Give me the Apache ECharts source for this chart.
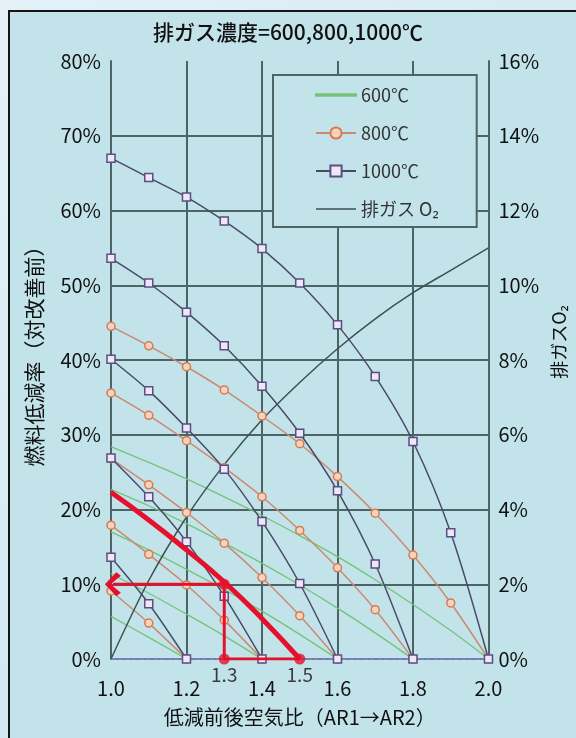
<!DOCTYPE html>
<html>
<head>
<meta charset="utf-8">
<script src="https://cdn.jsdelivr.net/npm/echarts@6/dist/echarts.min.js"></script>
<style>
html,body{margin:0;padding:0;width:576px;height:738px;overflow:hidden;background:linear-gradient(135deg,#e4f2f8,#c4e2ec);}
#panel{position:absolute;left:8px;top:10px;width:600px;height:760px;border:2px solid #151515;background:#c3e3ea;box-sizing:border-box;}
#chart{position:absolute;left:0;top:0;width:576px;height:738px;}
</style>
</head>
<body>
<div id="panel"></div>
<div id="chart"></div>
<script>
// air ratio after reduction (x), one row per AR1 = 1.2, 1.4, 1.6, 1.8, 2.0
const airRatio = [1.0, 1.1, 1.2, 1.3, 1.4, 1.5, 1.6, 1.7, 1.8, 1.9, 2.0];
const ar1List = [1.2, 1.4, 1.6, 1.8, 2.0];

const rate600 = [
  [5.7, 2.9, 0],
  [11.4, 8.8, 6.0, 3.1, 0],
  [17.0, 14.6, 12.0, 9.3, 6.4, 3.3, 0],
  [22.7, 20.5, 18.1, 15.5, 12.8, 9.9, 6.8, 3.5, 0],
  [28.4, 26.3, 24.1, 21.7, 19.2, 16.5, 13.7, 10.6, 7.3, 3.8, 0]
];
const rate800 = [
  [9.1, 4.8, 0],
  [17.9, 14.0, 9.9, 5.2, 0],
  [26.8, 23.3, 19.6, 15.5, 10.9, 5.8, 0],
  [35.6, 32.6, 29.2, 25.6, 21.7, 17.2, 12.2, 6.6, 0],
  [44.5, 41.9, 39.1, 36.0, 32.5, 28.8, 24.4, 19.5, 13.9, 7.5, 0]
];
const rate1000 = [
  [13.6, 7.4, 0],
  [26.9, 21.7, 15.7, 8.4, 0],
  [40.1, 35.9, 30.9, 25.4, 18.4, 10.1, 0],
  [53.6, 50.3, 46.4, 41.9, 36.5, 30.2, 22.5, 12.7, 0],
  [67.0, 64.4, 61.8, 58.6, 54.9, 50.3, 44.7, 37.8, 29.1, 16.9, 0]
];
const o2Rate = [0, 2.1, 3.8, 5.2, 6.4, 7.4, 8.3, 9.1, 9.8, 10.4, 11.0];

// highlighted example: AR 1.5 -> 1.3 at 800℃ gives 10%
const redCurve = [22.3, 18.6, 14.6, 10.3, 5.4, 0];
const exampleFrom = 1.5;
const exampleTo = 1.3;
const exampleRate = 10;

const FONT = '"Noto Sans CJK JP", "Noto Sans", sans-serif';
const GRID = '#4d6465';
const RED = '#e5112c';
const PLAIN_LINE = 'path://M0,0 L40,0 L40,1.3 L0,1.3 Z';

function toPoints(row) {
  return row.map((v, i) => [airRatio[i], v]);
}

function lineGroup(name, rows, color, symbol, symbolColor, fill, width) {
  return rows.map((row, k) => ({
    name: name,
    id: name + '_' + ar1List[k],
    type: 'line',
    data: toPoints(row),
    smooth: 0.3,
    symbol: symbol,
    symbolSize: 8,
    showSymbol: symbol !== 'none',
    lineStyle: { color: color, width: width },
    itemStyle: { color: fill, borderColor: symbolColor, borderWidth: 1.5 },
    z: 3,
    silent: true
  }));
}

const chart = echarts.init(document.getElementById('chart'), null, { renderer: 'canvas' });

const series = [].concat(
  lineGroup('600℃', rate600, '#74c477', 'none', '#74c477', '#74c477', 1.3),
  lineGroup('800℃', rate800, '#c98a70', 'circle', '#d9794f', '#f2d4c0', 1.5),
  lineGroup('1000℃', rate1000, '#4a4a68', 'rect', '#5b4d85', '#eee8f4', 1.5),
  [{
    name: '排ガス O₂',
    type: 'line',
    yAxisIndex: 1,
    data: toPoints(o2Rate),
    smooth: 0.3,
    symbol: 'none',
    lineStyle: { color: '#3c5152', width: 1.5 },
    itemStyle: { color: '#3c5152' },
    z: 3
  }, {
    name: 'red',
    type: 'line',
    data: toPoints(redCurve),
    smooth: 0.5,
    symbol: 'none',
    lineStyle: { color: RED, width: 5 },
    z: 10
  }, {
    name: 'redArrow',
    type: 'line',
    data: [
      { value: [exampleTo, exampleRate], symbol: 'none' },
      { value: [1.005, exampleRate], symbol: 'path://M10,0 L14,3 L5,10 L14,17 L10,20 L0,10 Z', symbolSize: [16, 24], symbolKeepAspect: false }
    ],
    showSymbol: true,
    lineStyle: { color: RED, width: 3 },
    itemStyle: { color: RED },
    z: 10
  }, {
    name: 'redDrop',
    type: 'line',
    data: [[exampleTo, exampleRate], [exampleTo, 0], [exampleFrom, 0]],
    symbol: 'none',
    lineStyle: { color: RED, width: 3 },
    z: 10
  }, {
    name: 'redDots',
    type: 'scatter',
    data: [
      { value: [exampleTo, exampleRate] },
      { value: [exampleTo, 0], label: { show: true } },
      { value: [exampleFrom, 0], label: { show: true } }
    ],
    symbolSize: 11,
    itemStyle: { color: RED },
    label: {
      show: false,
      position: 'bottom',
      distance: 1,
      formatter: p => p.value[0].toFixed(1),
      color: '#111',
      fontSize: 19,
      fontFamily: FONT
    },
    z: 11
  }]
);

const option = {
  animation: false,
  title: {
    text: '排ガス濃度=600,800,1000℃',
    left: 'center',
    top: 17,
    textStyle: { fontSize: 21, fontWeight: 500, color: '#111', fontFamily: FONT }
  },
  legend: {
    data: [
      { name: '600℃', icon: PLAIN_LINE },
      { name: '800℃' },
      { name: '1000℃' },
      { name: '排ガス O₂', icon: PLAIN_LINE }
    ],
    orient: 'vertical',
    left: 273,
    top: 75,
    itemWidth: 40,
    itemHeight: 14,
    itemGap: 20,
    padding: [11, 38, 9, 42],
    borderColor: GRID,
    borderWidth: 2,
    borderRadius: 0,
    backgroundColor: '#c3e3ea',
    textStyle: { fontSize: 18, color: '#333', fontFamily: FONT },
    z: 20
  },
  grid: { left: 111, right: 87, top: 61, bottom: 79 },
  xAxis: [{
    type: 'value',
    min: 1,
    max: 2,
    interval: 0.2,
    name: '低減前後空気比（AR1→AR2）',
    nameLocation: 'middle',
    nameGap: 48,
    nameTextStyle: { fontSize: 20, color: '#111', fontFamily: FONT },
    axisLine: { lineStyle: { color: GRID, width: 2 } },
    axisTick: { show: false },
    axisLabel: { fontSize: 20, color: '#111', margin: 19, fontFamily: FONT, formatter: v => v.toFixed(1) },
    splitLine: { show: true, lineStyle: { color: GRID, width: 2 } }
  }, {
    type: 'value',
    position: 'top',
    min: 1,
    max: 2,
    interval: 0.2,
    axisLine: { show: true, lineStyle: { color: '#7d82b8', width: 2, type: [5, 2] } },
    axisTick: { show: false },
    axisLabel: { show: false },
    splitLine: { show: false }
  }],
  yAxis: [{
    type: 'value',
    min: 0,
    max: 80,
    interval: 10,
    name: '燃料低減率（対改善前）',
    nameLocation: 'middle',
    nameGap: 66,
    nameRotate: 90,
    nameTextStyle: { fontSize: 21, color: '#111', fontFamily: FONT, padding: [0, 0, 0, 18] },
    axisLine: { show: true, lineStyle: { color: GRID, width: 2 } },
    axisTick: { show: false },
    axisLabel: { fontSize: 20, color: '#111', margin: 10, fontFamily: FONT, formatter: '{value}%' },
    splitLine: { show: true, showMaxLine: false, lineStyle: { color: GRID, width: 2 } }
  }, {
    type: 'value',
    min: 0,
    max: 16,
    interval: 2,
    position: 'right',
    name: '排ガスO₂',
    nameLocation: 'middle',
    nameGap: 58,
    nameRotate: 90,
    nameTextStyle: { fontSize: 18, color: '#111', fontFamily: FONT, padding: [0, 0, 0, 36] },
    axisLine: { show: true, lineStyle: { color: GRID, width: 2 } },
    axisTick: { show: false },
    axisLabel: { fontSize: 20, color: '#111', margin: 10, fontFamily: FONT, formatter: '{value}%' },
    splitLine: { show: false }
  }],
  series: series
};

chart.setOption(option);
</script>
</body>
</html>
